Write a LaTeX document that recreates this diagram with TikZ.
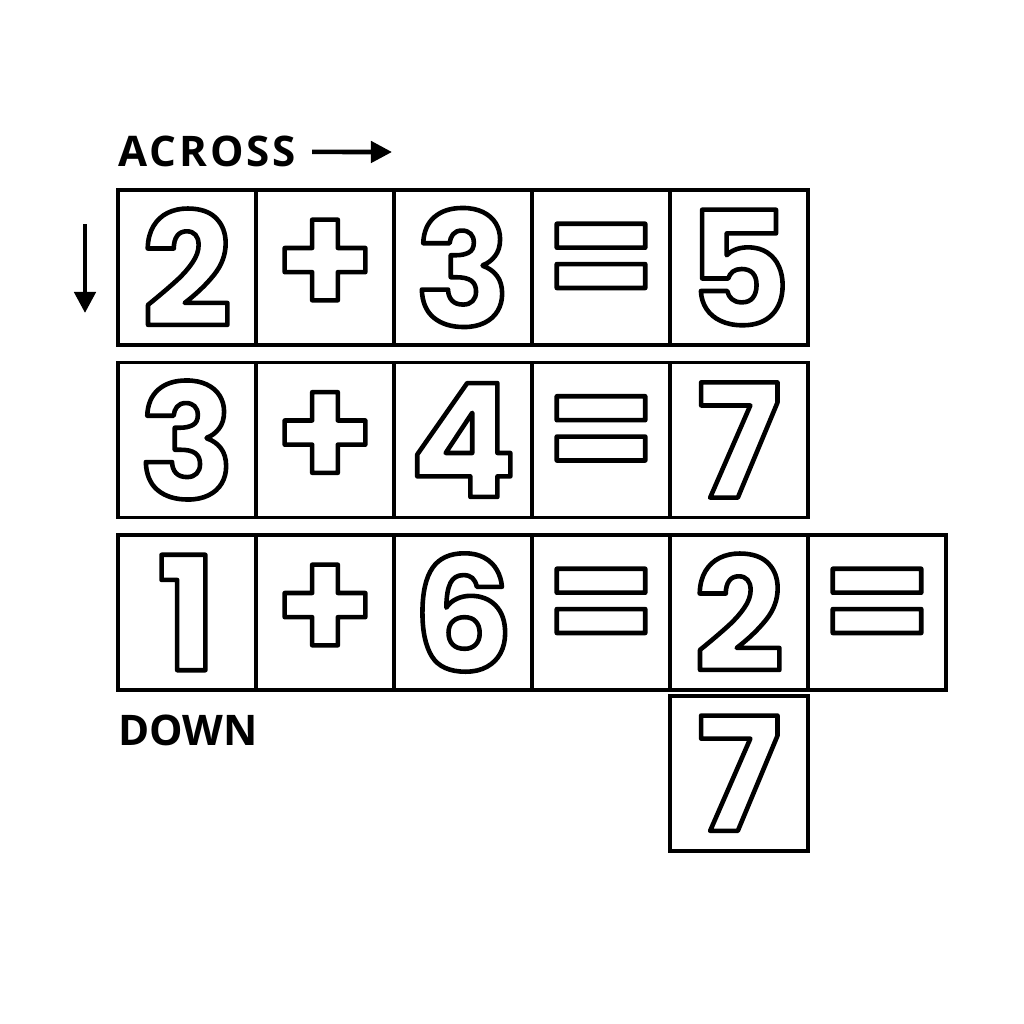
\documentclass[tikz,border=0pt]{standalone}
\usepackage{fontspec}
\usepackage{xcolor}
\usepackage{tikz}
\usetikzlibrary{arrows.meta,positioning}
\setmainfont{Open Sans}
\newfontfamily\digitfont{Poppins}
% white glyph with a black rim
\newcommand{\hollow}[1]{\special{pdf:code q 0 G 2 Tr 2.6 w 1 j 1 J}#1\special{pdf:code Q}}

\tikzset{
    cell/.style={draw, line width=2.1pt, minimum width=138*0.02cm,
      minimum height=155*0.02cm, inner sep=0pt, text=white,
      font=\digitfont\bfseries\fontsize{90}{90}\selectfont},
    label/.style={font=\bfseries\fontsize{24}{24}\selectfont, anchor=base west,
      inner sep=0pt}
}

\begin{document}
\begin{tikzpicture}[x=0.02cm,y=-0.02cm]
    \useasboundingbox (0,0) rectangle (1024,1024);
    % first row
    \foreach \s [count=\i] in {2,+,3,=,5}
        \node[cell] (a\i) at (118+138*\i-69,267.5) {\hollow{\s}};
    % second row
    \foreach \s [count=\i] in {3,+,4,=,7}
        \node[cell] (b\i) at (118+138*\i-69,440) {\hollow{\s}};
    % third row
    \foreach \s [count=\i] in {1,+,6,=,2,=}
        \node[cell] (c\i) at (118+138*\i-69,612.5) {\hollow{\s}};
    \node[cell,below=0.04cm of c5] (d5) {\hollow{7}};
    \node[label] (across) at (118,166) {\addfontfeature{LetterSpace=7}ACROSS};
    \node[label] (down) at (118,745) {DOWN};
    \coordinate (aend) at (392,152);
    \coordinate (dtop) at (85,224);
    \coordinate (dend) at (85,313);
    \draw[-{Triangle[length=12pt,width=12pt]},line width=2.6pt]
        ([xshift=9pt,yshift=8pt]across.base east) -- (aend);
    \draw[-{Triangle[length=12pt,width=12pt]},line width=2.6pt] (dtop) -- (dend);
\end{tikzpicture}
\end{document}
